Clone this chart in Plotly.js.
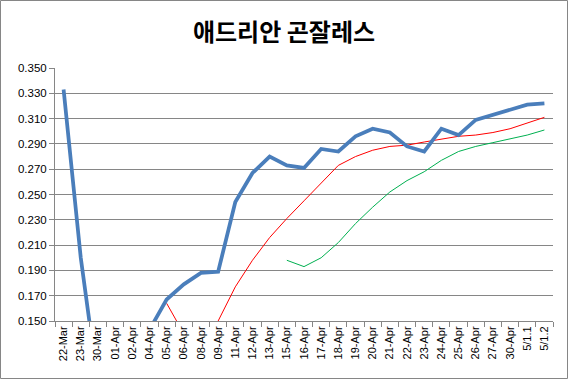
<!DOCTYPE html>
<html>
<head>
<meta charset="utf-8">
<script src="https://cdn.plot.ly/plotly-3.0.1.min.js"></script>
<style>
html,body{margin:0;padding:0;background:#fff;}
#chart{width:568px;height:379px;}
</style>
</head>
<body>
<div id="chart"></div>
<script>
const categories = ["22-Mar","23-Mar","30-Mar","01-Apr","02-Apr","04-Apr","05-Apr","06-Apr","08-Apr","09-Apr","11-Apr","12-Apr","13-Apr","15-Apr","16-Apr","17-Apr","18-Apr","19-Apr","20-Apr","21-Apr","22-Apr","23-Apr","24-Apr","25-Apr","26-Apr","27-Apr","30-Apr","5/1.1","5/1.2"];
const avgSeries = [0.333,0.200,0.100,0.105,0.125,0.143,0.167,0.179,0.188,0.189,0.244,0.267,0.280,0.273,0.271,0.286,0.284,0.296,0.302,0.299,0.288,0.284,0.302,0.297,0.309,0.313,0.317,0.321,0.322];
const redSeries = [null,null,null,null,null,null,0.164,0.140,0.135,0.150,0.177,0.198,0.216,0.231,0.245,0.259,0.273,0.280,0.285,0.288,0.289,0.2915,0.294,0.296,0.297,0.299,0.302,0.3066,0.311];
const greenSeries = [null,null,null,null,null,null,null,null,null,null,null,null,null,0.198,0.193,0.200,0.212,0.227,0.240,0.252,0.261,0.268,0.277,0.284,0.288,0.291,0.294,0.297,0.301];
const yTicks = [0.150,0.170,0.190,0.210,0.230,0.250,0.270,0.290,0.310,0.330,0.350];

const traces = [
  {x: categories, y: redSeries, type: 'scatter', mode: 'lines', line: {color: '#ff0000', width: 1}, connectgaps: false, hoverinfo: 'none'},
  {x: categories, y: greenSeries, type: 'scatter', mode: 'lines', line: {color: '#00b050', width: 1}, connectgaps: false, hoverinfo: 'none'},
  {x: categories, y: avgSeries, type: 'scatter', mode: 'lines', line: {color: '#4a7ebb', width: 3.75}, hoverinfo: 'none'}
];

const W = 568, H = 379;
const m = {l: 55, r: 15, t: 68, b: 58};
const pw = W - m.l - m.r, ph = H - m.t - m.b;

const layout = {
  width: W, height: H,
  margin: m,
  paper_bgcolor: '#ffffff',
  plot_bgcolor: '#ffffff',
  showlegend: false,
  title: {text: '<b>애드리안 곤잘레스</b>', x: 0.5, xanchor: 'center', y: 1 - 33/H, yanchor: 'middle',
          font: {family: 'Noto Sans CJK KR, sans-serif', size: 24, color: '#000'}},
  xaxis: {
    type: 'category',
    categoryorder: 'array', categoryarray: categories,
    range: [-0.5, categories.length - 0.5],
    showgrid: false,
    showline: true, linecolor: '#868686', linewidth: 1,
    ticks: 'outside', tickson: 'boundaries', ticklen: 5, tickcolor: '#868686',
    tickangle: -90,
    tickfont: {family: 'Liberation Sans, Arial, sans-serif', size: 11, color: '#000'},
    zeroline: false, fixedrange: true
  },
  yaxis: {
    range: [0.15, 0.35],
    tickvals: yTicks,
    tickformat: '.3f',
    showgrid: true, gridcolor: '#868686', gridwidth: 1,
    showline: true, linecolor: '#868686', linewidth: 1,
    ticks: 'outside', ticklen: 5, tickcolor: '#868686',
    tickfont: {family: 'Liberation Sans, Arial, sans-serif', size: 11.5, color: '#000'},
    zeroline: false, fixedrange: true
  },
  shapes: [{
    type: 'rect', xref: 'paper', yref: 'paper', layer: 'above',
    x0: (-m.l + 0.5)/pw, x1: (pw + m.r - 0.5)/pw,
    y0: (-m.b + 0.5)/ph, y1: (ph + m.t - 0.5)/ph,
    line: {color: '#868686', width: 1}
  }]
};

Plotly.newPlot('chart', traces, layout, {staticPlot: true, displayModeBar: false});
</script>
</body>
</html>
